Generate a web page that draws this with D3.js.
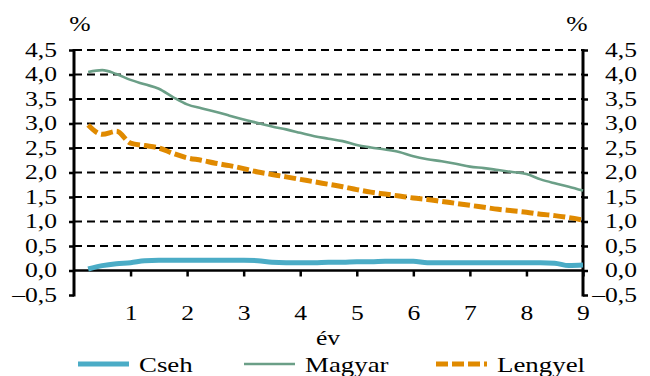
<!DOCTYPE html>
<html>
<head>
<meta charset="utf-8">
<script src="https://cdn.jsdelivr.net/npm/d3@7"></script>
<style>
  html, body { margin: 0; padding: 0; background: #fff; }
  svg { display: block; }
  svg text { font-family: "Liberation Serif"; fill: #000; }
</style>
</head>
<body>
<svg id="chart" width="650" height="376"></svg>
<script>
// Quarterly observation points (years)
const years = [0.25,0.5,0.75,1,1.25,1.5,1.75,2,2.25,2.5,2.75,3,3.25,3.5,3.75,4,4.25,4.5,4.75,5,
               5.25,5.5,5.75,6,6.25,6.5,6.75,7,7.25,7.5,7.75,8,8.25,8.5,8.75,9];

// Series values (%)
const cseh = [0.03,0.10,0.14,0.16,0.20,0.21,0.21,0.21,0.21,0.21,0.21,0.21,0.20,0.17,0.16,0.16,0.16,0.17,0.17,0.18,
              0.18,0.19,0.19,0.19,0.16,0.16,0.16,0.16,0.16,0.16,0.16,0.16,0.16,0.15,0.10,0.11];
const magyar = [4.05,4.09,4.01,3.89,3.80,3.71,3.54,3.39,3.31,3.24,3.16,3.08,3.01,2.94,2.88,2.81,2.74,2.69,2.64,2.56,
                2.51,2.47,2.42,2.33,2.27,2.23,2.18,2.12,2.09,2.05,2.01,1.97,1.86,1.78,1.71,1.63];
const lengyel = [2.97,2.78,2.84,2.60,2.55,2.50,2.39,2.30,2.25,2.19,2.14,2.08,2.01,1.96,1.91,1.86,1.81,1.76,1.71,1.65,
                 1.60,1.56,1.52,1.48,1.45,1.41,1.37,1.33,1.29,1.25,1.22,1.19,1.15,1.12,1.08,1.03];

// Axis ticks and labels
const xTicks = [1,2,3,4,5,6,7,8,9];
const yTicks = [-0.5,0,0.5,1,1.5,2,2.5,3,3.5,4,4.5];
const gridTicks = [0.5,1,1.5,2,2.5,3,3.5,4,4.5];
const seriesNames = ["Cseh","Magyar","Lengyel"];
const unitLabel = "%";
const xTitle = "év";

const SX = 1.28;      // horizontal stretch of the lettering
const FS = 20;        // font size of axis lettering

const svg = d3.select("#chart");

const x = d3.scaleLinear().domain([0, 9]).range([74, 583]);
const y = d3.scaleLinear().domain([-0.5, 4.5]).range([295, 50]);

const fmt = v => (v < 0 ? "\u2013" : "") + d3.format(".1f")(Math.abs(v)).replace(".", ",");

const styles = {
  Cseh:    { color: "#4bacc6", width: 5,   dash: null },
  Magyar:  { color: "#6b9f87", width: 2.6, dash: null },
  Lengyel: { color: "#e08a00", width: 5,   dash: "12,4" }
};

// Widen lettering horizontally while keeping its anchor point in place
function stretch(sel) {
  sel.each(function () {
    const t = d3.select(this);
    const x0 = +t.attr("x") || 0;
    t.attr("x", x0 / SX).attr("transform", `scale(${SX},1)`);
  });
}

// Free-standing label at (px, py)
function label(px, py, txt, size, anchor) {
  const g = svg.append("g").attr("transform", `translate(${px},${py})`);
  g.append("text").attr("text-anchor", anchor).attr("font-size", size)
    .attr("transform", `scale(${SX},1)`).text(txt);
}

// Dashed horizontal gridlines
svg.append("g").selectAll("line").data(gridTicks).join("line")
  .attr("x1", x(0)).attr("x2", x(9))
  .attr("y1", d => y(d)).attr("y2", d => y(d))
  .attr("stroke", "#000").attr("stroke-width", 2).attr("stroke-dasharray", "8,5");

// Left and right value axes
const leftAxis = d3.axisLeft(y).tickValues(yTicks).tickFormat(fmt).tickSize(5).tickPadding(12);
const rightAxis = d3.axisRight(y).tickValues(yTicks).tickFormat(fmt).tickSize(5).tickPadding(7);

function styleAxis(g) {
  g.selectAll(".tick line").attr("stroke", "#000").attr("stroke-width", 2.5);
  g.selectAll(".tick text").attr("font-size", FS).attr("fill", "#000");
}

const gl = svg.append("g").attr("transform", `translate(${x(0)},0)`).call(leftAxis);
styleAxis(gl);
gl.select(".domain").remove();
gl.selectAll(".tick text").attr("x", -17).call(stretch);
gl.append("line").attr("x1", 0).attr("x2", 0).attr("y1", y(4.5) - 1).attr("y2", y(-0.5) + 1.5)
  .attr("stroke", "#000").attr("stroke-width", 3);

const gr = svg.append("g").attr("transform", `translate(${x(9)},0)`).call(rightAxis);
styleAxis(gr);
gr.select(".domain").remove();
gr.selectAll(".tick text").attr("text-anchor", "end").attr("x", 54).call(stretch);
gr.append("line").attr("x1", 0).attr("x2", 0).attr("y1", y(4.5) - 1).attr("y2", y(-0.5) + 1.5)
  .attr("stroke", "#000").attr("stroke-width", 3);

// Horizontal axis on the zero line
const bottomAxis = d3.axisBottom(x).tickValues(xTicks).tickFormat(d3.format("d")).tickSize(6).tickPadding(29);
const gb = svg.append("g").attr("transform", `translate(0,${y(0)})`).call(bottomAxis);
styleAxis(gb);
gb.select(".domain").remove();
gb.selectAll(".tick text").call(stretch);
gb.append("line").attr("x1", x(0)).attr("x2", x(9)).attr("y1", 0).attr("y2", 0)
  .attr("stroke", "#000").attr("stroke-width", 2.5);

// Unit labels above both axes
label(80, 31, unitLabel, FS, "middle");
label(577, 31, unitLabel, FS, "middle");

// Horizontal axis title
label(328, 345, xTitle, FS, "middle");

// Series lines
const series = [
  { name: "Cseh", values: cseh },
  { name: "Magyar", values: magyar },
  { name: "Lengyel", values: lengyel }
];
const line = d3.line().x((d, i) => x(years[i])).y(d => y(d)).curve(d3.curveMonotoneX);

svg.append("g").selectAll("path").data(series).join("path")
  .attr("d", s => line(s.values))
  .attr("fill", "none")
  .attr("stroke", s => styles[s.name].color)
  .attr("stroke-width", s => styles[s.name].width)
  .attr("stroke-dasharray", s => styles[s.name].dash)
  .attr("stroke-linejoin", "round");

// Legend
const legendPos = { Cseh: 78, Magyar: 244, Lengyel: 436 };
const lg = svg.append("g").selectAll("g").data(seriesNames).join("g")
  .attr("transform", d => `translate(${legendPos[d]},364)`);
lg.append("line").attr("x1", 0).attr("x2", 51).attr("y1", 0).attr("y2", 0)
  .attr("stroke", d => styles[d].color)
  .attr("stroke-width", d => styles[d].width)
  .attr("stroke-dasharray", d => styles[d].dash);
lg.append("text").attr("x", 61).attr("y", 7.5).attr("font-size", 21).text(d => d).call(stretch);
</script>
</body>
</html>
